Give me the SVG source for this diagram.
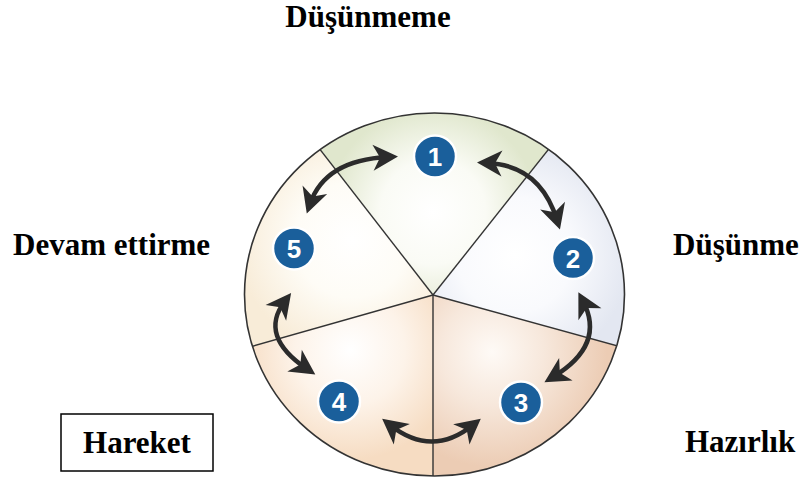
<svg xmlns="http://www.w3.org/2000/svg" width="807" height="479" viewBox="0 0 807 479">
  <style>
    .lbl { font-family: "Liberation Serif", "Times New Roman", serif; font-weight: bold; font-size: 31px; fill: #000; }
    .num { font-family: "Liberation Sans", Arial, sans-serif; font-weight: bold; font-size: 26px; fill: #fff; text-anchor: middle; }
    .badge { fill: #1a5f9b; stroke: #fff; stroke-width: 2.5; }
    .div { stroke: #333; stroke-width: 1.4; fill: none; }
    .arrow { fill: none; stroke: #2b2b2b; stroke-width: 4.5; marker-start: url(#head); marker-end: url(#head); }
  </style>
  <defs>
    <marker id="head" markerUnits="userSpaceOnUse" markerWidth="40" markerHeight="40" refX="0" refY="0" viewBox="-20 -20 40 40" orient="auto-start-reverse" overflow="visible">
      <path d="M 10 0 L -15 -13 L -8 0 L -15 13 Z" fill="#2b2b2b"/>
    </marker>
    <clipPath id="disc">
      <ellipse cx="434.5" cy="294.5" rx="190" ry="181.5"/>
    </clipPath>
    <radialGradient id="g1" gradientUnits="userSpaceOnUse" cx="433" cy="212" r="105">
      <stop offset="0" stop-color="#ffffff"/>
      <stop offset="0.5" stop-color="#fafbf5"/>
      <stop offset="1" stop-color="#e0e7cd"/>
    </radialGradient>
    <radialGradient id="g2" gradientUnits="userSpaceOnUse" cx="515" cy="255" r="115">
      <stop offset="0" stop-color="#ffffff"/>
      <stop offset="0.5" stop-color="#f9fafd"/>
      <stop offset="1" stop-color="#e3e7f1"/>
    </radialGradient>
    <radialGradient id="g3" gradientUnits="userSpaceOnUse" cx="492" cy="352" r="115">
      <stop offset="0" stop-color="#fefaf6"/>
      <stop offset="0.45" stop-color="#f7e8dc"/>
      <stop offset="1" stop-color="#ecccb4"/>
    </radialGradient>
    <radialGradient id="g4" gradientUnits="userSpaceOnUse" cx="350" cy="350" r="110">
      <stop offset="0" stop-color="#ffffff"/>
      <stop offset="0.5" stop-color="#fdf3e9"/>
      <stop offset="1" stop-color="#f6dcc2"/>
    </radialGradient>
    <radialGradient id="g5" gradientUnits="userSpaceOnUse" cx="352" cy="240" r="115">
      <stop offset="0" stop-color="#ffffff"/>
      <stop offset="0.5" stop-color="#fefcf6"/>
      <stop offset="1" stop-color="#f8ecd8"/>
    </radialGradient>
  </defs>

  <rect width="807" height="479" fill="#ffffff"/>

  <!-- stage wheel: five shaded sectors inside the disc -->
  <g id="wheel">
    <g clip-path="url(#disc)">
      <polygon points="433,295 204,0 667,0" fill="url(#g1)"/>
      <polygon points="433,295 667,0 900,0 900,424" fill="url(#g2)"/>
      <polygon points="433,295 900,424 900,700 433,700" fill="url(#g3)"/>
      <polygon points="433,295 433,700 0,700 0,418" fill="url(#g4)"/>
      <polygon points="433,295 0,418 0,0 204,0" fill="url(#g5)"/>
      <g class="div">
        <line x1="433" y1="295" x2="204" y2="0"/>
        <line x1="433" y1="295" x2="667" y2="0"/>
        <line x1="433" y1="295" x2="900" y2="424"/>
        <line x1="433" y1="295" x2="433" y2="700"/>
        <line x1="433" y1="295" x2="0" y2="418"/>
      </g>
    </g>
    <ellipse cx="434.5" cy="294.5" rx="190" ry="181.5" fill="none" stroke="#333" stroke-width="1.6"/>
  </g>

  <!-- two-way cycle arrows between neighbouring stages -->
  <g id="connectors">
    <path class="arrow" d="M 310 204 Q 325 160 388 157"/>
    <path class="arrow" d="M 487 163 Q 540 165 557 220"/>
    <path class="arrow" d="M 583 301 Q 606 345 553 377"/>
    <path class="arrow" d="M 390 425 Q 432 458 473 425"/>
    <path class="arrow" d="M 285 301 Q 258 336 307 369"/>
  </g>

  <g id="stage1">
    <circle class="badge" cx="435" cy="156.5" r="21"/>
    <text class="num" x="435" y="166">1</text>
  </g>
  <g id="stage2">
    <circle class="badge" cx="573" cy="258" r="21"/>
    <text class="num" x="573" y="267.5">2</text>
  </g>
  <g id="stage3">
    <circle class="badge" cx="521" cy="402.5" r="21"/>
    <text class="num" x="521" y="412">3</text>
  </g>
  <g id="stage4">
    <circle class="badge" cx="339" cy="401.5" r="21"/>
    <text class="num" x="339" y="411">4</text>
  </g>
  <g id="stage5">
    <circle class="badge" cx="294" cy="248.5" r="21"/>
    <text class="num" x="294" y="258">5</text>
  </g>

  <g id="label-dusunmeme">
    <text class="lbl" x="368" y="27" text-anchor="middle">Düşünmeme</text>
  </g>
  <g id="label-dusunme">
    <text class="lbl" x="673" y="255">Düşünme</text>
  </g>
  <g id="label-hazirlik">
    <text class="lbl" x="685" y="452">Hazırlık</text>
  </g>
  <g id="label-hareket">
    <rect x="61" y="414" width="152" height="57" fill="#fff" stroke="#000" stroke-width="1.5"/>
    <text class="lbl" x="137" y="453" text-anchor="middle">Hareket</text>
  </g>
  <g id="label-devam">
    <text class="lbl" x="13" y="255">Devam ettirme</text>
  </g>
</svg>
